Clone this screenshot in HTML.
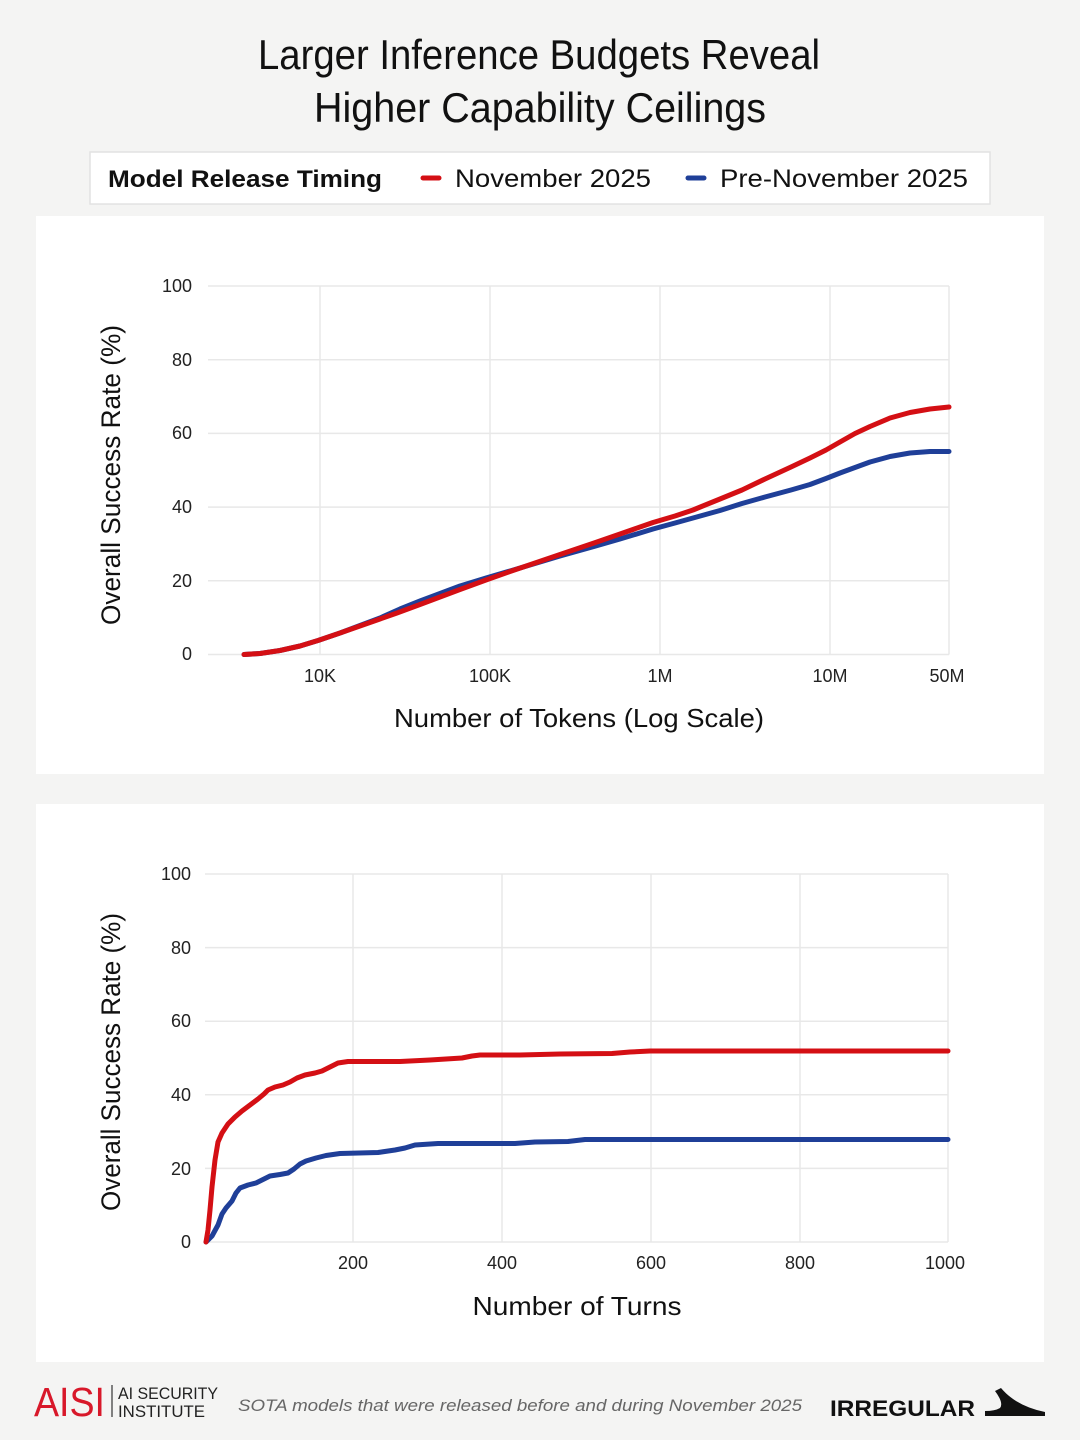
<!DOCTYPE html>
<html><head><meta charset="utf-8"><style>
html,body{margin:0;padding:0;background:#f4f4f3;}
svg{display:block;}
</style></head><body>
<svg width="1080" height="1440" viewBox="0 0 1080 1440" xmlns="http://www.w3.org/2000/svg" font-family="Liberation Sans, sans-serif">
<rect width="1080" height="1440" fill="#f4f4f3"/>
<!-- Title -->
<text x="539" y="69" font-size="42" text-anchor="middle" fill="#111" textLength="562" lengthAdjust="spacingAndGlyphs">Larger Inference Budgets Reveal</text>
<text x="540" y="122" font-size="42" text-anchor="middle" fill="#111" textLength="452" lengthAdjust="spacingAndGlyphs">Higher Capability Ceilings</text>
<!-- Legend -->
<rect x="90" y="152" width="900" height="52" fill="#fff" stroke="#e2e2e2" stroke-width="1.5"/>
<text x="108" y="187" font-size="24" font-weight="bold" fill="#111" textLength="274" lengthAdjust="spacingAndGlyphs">Model Release Timing</text>
<line x1="423" y1="178" x2="439" y2="178" stroke="#d40f14" stroke-width="5" stroke-linecap="round"/>
<text x="455" y="187" font-size="25" fill="#111" textLength="196" lengthAdjust="spacingAndGlyphs">November 2025</text>
<line x1="688" y1="178" x2="704" y2="178" stroke="#1f3f98" stroke-width="5" stroke-linecap="round"/>
<text x="720" y="187" font-size="25" fill="#111" textLength="248" lengthAdjust="spacingAndGlyphs">Pre-November 2025</text>

<!-- Top panel -->
<rect x="36" y="216" width="1008" height="558" fill="#fff"/>
<g stroke="#e8e8e8" stroke-width="1.5">
<line x1="208" y1="286" x2="949" y2="286"/>
<line x1="208" y1="359.7" x2="949" y2="359.7"/>
<line x1="208" y1="433.4" x2="949" y2="433.4"/>
<line x1="208" y1="507.1" x2="949" y2="507.1"/>
<line x1="208" y1="580.8" x2="949" y2="580.8"/>
<line x1="208" y1="654.5" x2="949" y2="654.5"/>
<line x1="320" y1="286" x2="320" y2="654.5"/>
<line x1="490" y1="286" x2="490" y2="654.5"/>
<line x1="660" y1="286" x2="660" y2="654.5"/>
<line x1="830" y1="286" x2="830" y2="654.5"/>
<line x1="949" y1="286" x2="949" y2="654.5"/>
</g>
<g font-size="18" fill="#222" text-anchor="end">
<text x="192" y="292">100</text>
<text x="192" y="366">80</text>
<text x="192" y="439">60</text>
<text x="192" y="513">40</text>
<text x="192" y="587">20</text>
<text x="192" y="660">0</text>
</g>
<g font-size="18" fill="#222" text-anchor="middle">
<text x="320" y="682">10K</text>
<text x="490" y="682">100K</text>
<text x="660" y="682">1M</text>
<text x="830" y="682">10M</text>
<text x="947" y="682">50M</text>
</g>
<text x="579" y="727" font-size="26" fill="#111" text-anchor="middle" textLength="370" lengthAdjust="spacingAndGlyphs">Number of Tokens (Log Scale)</text>
<text transform="translate(120,475) rotate(-90)" x="0" y="0" font-size="27" fill="#111" text-anchor="middle" textLength="300" lengthAdjust="spacingAndGlyphs">Overall Success Rate (%)</text>
<polyline fill="none" stroke="#1f3f98" stroke-width="5" stroke-linejoin="round" stroke-linecap="round" points="244,654.5 260,653.5 280,650.5 300,646 318,640.5 340,633 360,625.5 380,618 400,609 420,601 440,593.5 460,586 486,578 510,571 535,563.5 560,556 594,546.5 620,539 653,529 675,523 693,518 720,510.5 742,503.5 765,497 791,490 810,484.5 826,478.5 840,473 855,467.5 870,462 890,456.5 910,453 930,451.5 949,451.5"/>
<polyline fill="none" stroke="#d40f14" stroke-width="5" stroke-linejoin="round" stroke-linecap="round" points="244,654.5 260,653.5 280,650.5 300,646 318,640.5 340,633 360,626 380,619 397,613 420,604.5 440,597 460,589.5 486,580 510,571.5 535,563 560,554.5 594,543 620,534 653,522.5 675,516 693,510 720,499 742,490 765,479 791,467 810,458 826,450 840,442 855,433.5 870,426.5 890,418 910,412.5 930,409 949,407"/>

<!-- Bottom panel -->
<rect x="36" y="804" width="1008" height="558" fill="#fff"/>
<g stroke="#e8e8e8" stroke-width="1.5">
<line x1="205" y1="874" x2="948" y2="874"/>
<line x1="205" y1="947.6" x2="948" y2="947.6"/>
<line x1="205" y1="1021.2" x2="948" y2="1021.2"/>
<line x1="205" y1="1094.8" x2="948" y2="1094.8"/>
<line x1="205" y1="1168.4" x2="948" y2="1168.4"/>
<line x1="205" y1="1242" x2="948" y2="1242"/>
<line x1="353" y1="874" x2="353" y2="1242"/>
<line x1="502" y1="874" x2="502" y2="1242"/>
<line x1="651" y1="874" x2="651" y2="1242"/>
<line x1="800" y1="874" x2="800" y2="1242"/>
<line x1="948" y1="874" x2="948" y2="1242"/>
</g>
<g font-size="18" fill="#222" text-anchor="end">
<text x="191" y="880">100</text>
<text x="191" y="954">80</text>
<text x="191" y="1027">60</text>
<text x="191" y="1101">40</text>
<text x="191" y="1175">20</text>
<text x="191" y="1248">0</text>
</g>
<g font-size="18" fill="#222" text-anchor="middle">
<text x="353" y="1269">200</text>
<text x="502" y="1269">400</text>
<text x="651" y="1269">600</text>
<text x="800" y="1269">800</text>
<text x="945" y="1269">1000</text>
</g>
<text x="577" y="1315" font-size="26" fill="#111" text-anchor="middle" textLength="209" lengthAdjust="spacingAndGlyphs">Number of Turns</text>
<text transform="translate(120,1062) rotate(-90)" x="0" y="0" font-size="27" fill="#111" text-anchor="middle" textLength="298" lengthAdjust="spacingAndGlyphs">Overall Success Rate (%)</text>
<polyline fill="none" stroke="#1f3f98" stroke-width="5" stroke-linejoin="round" stroke-linecap="round" points="206,1242 212,1236 218,1225 222,1214 226,1208 232,1201 236,1193 240,1188 248,1185 256,1183 264,1179 270,1176 280,1174.5 288,1173 294,1169 300,1164 306,1161 316,1158 326,1155.5 340,1153.5 378,1152.5 395,1150 405,1148 415,1145 438,1143.5 515,1143.5 535,1142 568,1141.5 585,1139.5 948,1139.5"/>
<polyline fill="none" stroke="#d40f14" stroke-width="5" stroke-linejoin="round" stroke-linecap="round" points="206,1242 208,1230 210,1210 212,1187 215,1160 218,1142 222,1133 228,1124 235,1117 242,1111 250,1105 258,1099 264,1094 268,1090 275,1087 283,1085 290,1082 297,1078 305,1075 315,1073 322,1071 330,1067 338,1063 348,1061.5 400,1061.5 430,1060 462,1058 472,1056 480,1055 520,1055 560,1054 612,1053.5 630,1052 650,1051 948,1051"/>

<!-- Footer -->
<text x="34" y="1416" font-size="41" fill="#d8182a" textLength="71" lengthAdjust="spacingAndGlyphs">AISI</text>
<line x1="112" y1="1385" x2="112" y2="1417" stroke="#333" stroke-width="1.2"/>
<text x="118" y="1399" font-size="17" fill="#222" textLength="100" lengthAdjust="spacingAndGlyphs">AI SECURITY</text>
<text x="118" y="1417" font-size="17" fill="#222" textLength="87" lengthAdjust="spacingAndGlyphs">INSTITUTE</text>
<text x="238" y="1411" font-size="17" font-style="italic" fill="#666" textLength="564" lengthAdjust="spacingAndGlyphs">SOTA models that were released before and during November 2025</text>
<text x="830" y="1416" font-size="22" font-weight="bold" fill="#111" textLength="145" lengthAdjust="spacingAndGlyphs">IRREGULAR</text>
<path d="M985,1416 L1045,1416 L1045,1412 Q1016,1406 1001,1388 L995,1391 Q1004,1403 1000,1408 Q995,1411 985,1411 Z" fill="#111"/>
</svg>
</body></html>
